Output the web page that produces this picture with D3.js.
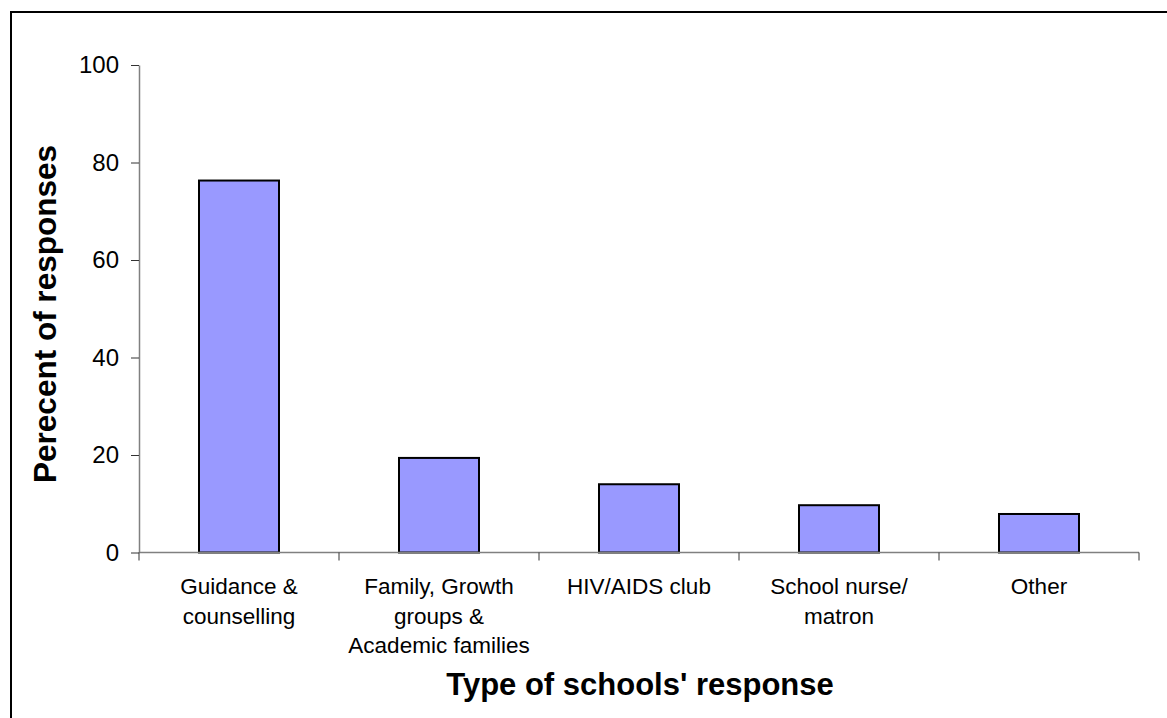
<!DOCTYPE html>
<html><head><meta charset="utf-8">
<script src="https://cdn.jsdelivr.net/npm/d3@7"></script>
<style>body{margin:0;background:#fff}svg{display:block}</style>
</head><body>
<script>
const categories = [
  ["Guidance &", "counselling"],
  ["Family, Growth", "groups &", "Academic families"],
  ["HIV/AIDS club"],
  ["School nurse/", "matron"],
  ["Other"]
];
const values = [76.3, 19.4, 14.0, 9.7, 7.9];
const yTicks = [0, 20, 40, 60, 80, 100];
const yTitle = "Perecent of responses";
const xTitle = "Type of schools' response";

const W = 1167, H = 718;
const svg = d3.select("body").append("svg").attr("width", W).attr("height", H);
svg.append("rect").attr("x", 11).attr("y", 12).attr("width", 1170).attr("height", 720)
  .attr("fill", "#fff").attr("stroke", "#000").attr("stroke-width", 2);

const pLeft = 139, pRight = 1139, pTop = 65, pBottom = 552.5;
const x = d3.scaleBand().domain(d3.range(values.length)).range([pLeft, pRight]).paddingInner(0).paddingOuter(0);
const y = d3.scaleLinear().domain([0, 100]).range([pBottom, pTop]);
const font = "'Liberation Sans', Arial, sans-serif";

// bars
svg.selectAll("rect.bar").data(values).enter().append("rect").attr("class", "bar")
  .attr("x", (d, i) => x(i) + x.bandwidth() * 0.3)
  .attr("width", x.bandwidth() * 0.4)
  .attr("y", d => y(d))
  .attr("height", d => y(0) - y(d))
  .attr("fill", "#9999FF").attr("stroke", "#000").attr("stroke-width", 2);

// y axis
const ya = svg.append("g").attr("transform", `translate(${pLeft},0)`)
  .call(d3.axisLeft(y).tickValues(yTicks).tickSize(8).tickPadding(12).tickSizeOuter(0));
ya.select(".domain").attr("stroke", "#808080").attr("stroke-width", 1.5);
ya.selectAll(".tick line").attr("stroke", "#333");
ya.selectAll("text").attr("font-family", font).attr("font-size", 24).attr("fill", "#000");

// x axis
const xa = svg.append("g").attr("transform", `translate(0,${pBottom})`);
xa.append("line").attr("x1", pLeft).attr("x2", pRight).attr("y1", 0).attr("y2", 0)
  .attr("stroke", "#808080").attr("stroke-width", 1.5);
const tickXs = d3.range(values.length + 1).map(i => pLeft + i * x.bandwidth());
xa.selectAll("line.tk").data(tickXs).enter().append("line").attr("class", "tk")
  .attr("x1", d => d).attr("x2", d => d).attr("y1", 0).attr("y2", 8)
  .attr("stroke", "#333").attr("stroke-width", 1);

// category labels
const lbl = svg.append("g");
categories.forEach((lines, i) => {
  const t = lbl.append("text").attr("text-anchor", "middle")
    .attr("font-family", font).attr("font-size", 22.5).attr("fill", "#000");
  lines.forEach((ln, j) => {
    t.append("tspan").attr("x", x(i) + x.bandwidth() / 2).attr("y", 594 + j * 29.5).text(ln);
  });
});

// titles
svg.append("text").attr("x", 640).attr("y", 695).attr("text-anchor", "middle")
  .attr("font-family", font).attr("font-weight", "bold").attr("font-size", 31).text(xTitle);
svg.append("text").attr("transform", "translate(56,314) rotate(-90)").attr("text-anchor", "middle")
  .attr("font-family", font).attr("font-weight", "bold").attr("font-size", 31.5).text(yTitle);
</script>
</body></html>
